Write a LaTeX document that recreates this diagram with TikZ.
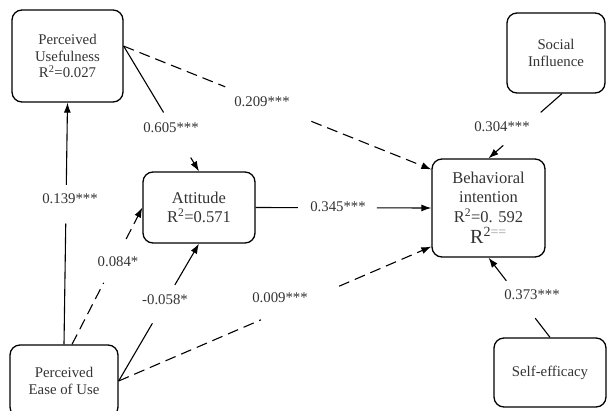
\documentclass[tikz,border=0pt]{standalone}
\usepackage{fontspec}
\setmainfont{Liberation Serif}
\usetikzlibrary{arrows.meta,calc}

\begin{document}
\begin{tikzpicture}[
  x=1pt, y=-1pt,
  font=\fontsize{14.8}{16.5}\selectfont,
  box/.style={draw, rounded corners=10pt, align=center, text=black!80,
              line width=1.3pt, inner sep=2pt},
  big/.style={font=\fontsize{16.5}{18.5}\selectfont},
  coef/.style={text=black!80, inner sep=1pt},
  link/.style={line width=1.1pt},
  dlink/.style={line width=1.1pt, dash pattern=on 11pt off 6pt},
  arr/.style={-{Latex[length=10pt,width=7pt]}},
]
\useasboundingbox (0,0) rectangle (610,410);

% ---------------------------------------------------------------- constructs
\node[box, minimum width=111pt, minimum height=92pt] (pu) at (67.5,56)
  {Perceived\\Usefulness\\R\textsuperscript{2}=0.027};
\node[box, minimum width=98pt, minimum height=80pt] (si) at (556,53)
  {Social\\Influence};
\node[box, big, minimum width=112pt, minimum height=71pt] (att) at (199,207.5)
  {Attitude\\R\textsuperscript{2}=0.571};
\node[box, big, minimum width=113pt, minimum height=98pt] (bi) at (488.5,208)
  {Behavioral\\[1pt]intention\\[1pt]R\textsuperscript{2}=0. 592\\[3pt]
   {\fontsize{20}{20}\selectfont R\textsuperscript{2{\color{black!40}==}}}};
\node[box, minimum width=108pt, minimum height=72pt] (peou) at (64,381)
  {Perceived\\Ease of Use};
\node[box, minimum width=112pt, minimum height=69pt] (se) at (550,372.5)
  {Self-efficacy};

% ---------------------------------------------------------- path coefficients
\node[coef] (c605) at (171,128) {0.605***};
\node[coef] (c209) at (262,102) {0.209***};
\node[coef] (c345) at (338,207) {0.345***};
\node[coef] (c139) at (70,199)  {0.139***};
\node[coef] (c084) at (118,262) {0.084*};
\node[coef] (c058) at (165,300) {-0.058*};
\node[coef] (c009) at (280,298) {0.009***};
\node[coef] (c304) at (502,127) {0.304***};
\node[coef] (c373) at (532,295) {0.373***};

% ------------------------------------------------------------------- arrows
% PU -> Attitude
\draw[link] (pu.10) -- ($(pu.10)!0.53!(att.north)$);
\draw[link, arr] ($(pu.10)!0.89!(att.north)$) -- (att.north);
% PU -> BI
\draw[dlink] (pu.10) -- ($(pu.10)!0.33!(bi.146)$);
\draw[dlink, arr] ($(pu.10)!0.61!(bi.146)$) -- (bi.146);
% Attitude -> BI
\draw[link] (att.east) -- ($(att.east)!0.24!(bi.west)$);
\draw[link, arr] ($(att.east)!0.69!(bi.west)$) -- (bi.west);
% PEOU -> PU
\draw[link] (peou.north) -- ($(peou.north)!0.50!(pu.south)$);
\draw[link, arr] ($(peou.north)!0.66!(pu.south)$) -- (pu.south);
% PEOU -> Attitude
\draw[dlink] ([xshift=8pt]peou.north) -- ($([xshift=8pt]peou.north)!0.45!(att.west)$);
\draw[dlink, arr] ($([xshift=8pt]peou.north)!0.77!(att.west)$) -- (att.west);
\draw[link] (peou.east) -- ($(peou.east)!0.42!(att.south)$);
\draw[link, arr] ($(peou.east)!0.70!(att.south)$) -- (att.south);
% PEOU -> BI
\draw[dlink] (peou.east) -- ($(peou.east)!0.455!(bi.214)$);
\draw[dlink, arr] ($(peou.east)!0.705!(bi.214)$) -- (bi.214);
% SI, SE -> BI
\draw[link] ([xshift=6pt]si.south) -- ($([xshift=6pt]si.south)!0.29!(bi.north)$);
\draw[link, arr] ($([xshift=6pt]si.south)!0.80!(bi.north)$) -- (bi.north);
\draw[link] (se.north) -- ($(se.north)!0.24!(bi.south)$);
\draw[link, arr] ($(se.north)!0.71!(bi.south)$) -- (bi.south);

\end{tikzpicture}
\end{document}
